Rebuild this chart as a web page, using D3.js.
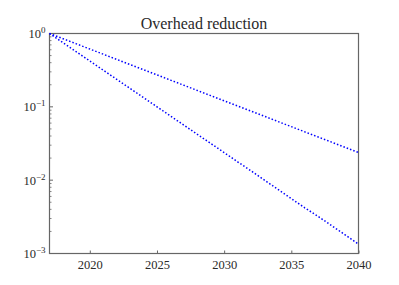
<!DOCTYPE html>
<html>
<head>
<meta charset="utf-8">
<script src="https://cdn.jsdelivr.net/npm/d3@7"></script>
<style>
	body { margin: 0; background: #fff; }
</style>
</head>
<body>
<div id="chart"></div>
<script>
// years on the x axis
var years = [2017, 2018, 2019, 2020, 2021, 2022, 2023, 2024, 2025, 2026, 2027, 2028,
	2029, 2030, 2031, 2032, 2033, 2034, 2035, 2036, 2037, 2038, 2039, 2040];

// upper (slower) curve
var slowValues = [1, 0.85, 0.7225, 0.6141, 0.5220, 0.4437, 0.3771, 0.3206, 0.2725,
	0.2316, 0.1969, 0.1673, 0.1422, 0.1209, 0.1028, 0.0874, 0.0743, 0.0631, 0.0537,
	0.0456, 0.0388, 0.0330, 0.0280, 0.0238];

// lower (faster) curve
var fastValues = [1, 0.75, 0.5625, 0.4219, 0.3164, 0.2373, 0.1780, 0.1335, 0.1001,
	0.0751, 0.0563, 0.0422, 0.0317, 0.0238, 0.0178, 0.0134, 0.0100, 0.0075, 0.0056,
	0.0042, 0.0032, 0.0024, 0.0018, 0.00134];

var xTicks = [2020, 2025, 2030, 2035, 2040];
var yExps = [0, -1, -2, -3];
var title = "Overhead reduction";

var width = 399, height = 285;
var margin = { top: 33.5, right: 40.5, bottom: 31.5, left: 49.5 };
var serif = "'Liberation Serif', serif";
var textColor = "#2a2a2a";

var svg = d3.select("#chart").append("svg")
	.attr("width", width)
	.attr("height", height)
	.style("font-family", serif);

var x = d3.scaleLinear()
	.domain([2017, 2040])
	.range([margin.left, width - margin.right]);

var y = d3.scaleLog()
	.domain([1e-3, 1])
	.range([height - margin.bottom, margin.top]);

var axisColor = "#666";

// frame
svg.append("rect")
	.attr("x", margin.left)
	.attr("y", margin.top)
	.attr("width", width - margin.left - margin.right)
	.attr("height", height - margin.top - margin.bottom)
	.attr("fill", "none")
	.attr("stroke", axisColor)
	.attr("stroke-width", 1.2);

// x axis, ticks pointing inwards
var xAxis = svg.append("g")
	.attr("transform", "translate(0," + (height - margin.bottom) + ")")
	.call(d3.axisBottom(x).tickValues(xTicks).tickSize(-3).tickPadding(6.5).tickFormat(d3.format("d")));
xAxis.attr("font-family", null).attr("font-size", 12.5);
xAxis.select(".domain").remove();
xAxis.selectAll(".tick line").attr("stroke", axisColor);
xAxis.selectAll(".tick text").attr("fill", textColor);

// y minor ticks
var minor = [];
yExps.slice(1).forEach(function(e) {
	for (var k = 2; k <= 9; k++) { minor.push(k * Math.pow(10, e)); }
});
svg.append("g").selectAll("line")
	.data(minor)
	.enter().append("line")
	.attr("x1", margin.left).attr("x2", margin.left + 2)
	.attr("y1", function(d) { return y(d); })
	.attr("y2", function(d) { return y(d); })
	.attr("stroke", axisColor)
	.attr("stroke-width", 0.8);

// y major ticks with 10^n labels
var yMajor = svg.append("g").selectAll("g")
	.data(yExps)
	.enter().append("g")
	.attr("transform", function(e) { return "translate(0," + y(Math.pow(10, e)) + ")"; });

yMajor.append("line")
	.attr("x1", margin.left).attr("x2", margin.left + 3.5)
	.attr("stroke", axisColor)
	.attr("stroke-width", 1);

var lbl = yMajor.append("text")
	.attr("x", margin.left - 4)
	.attr("y", 4.5)
	.attr("text-anchor", "end")
	.attr("font-size", 12.5)
	.attr("fill", textColor);
lbl.append("tspan").text("10");
lbl.append("tspan")
	.attr("dy", -5)
	.attr("font-size", 9)
	.text(function(e) { return e == 0 ? "0" : "\u2212" + (-e); });

// the two curves
var line = d3.line()
	.x(function(d) { return x(d[0]); })
	.y(function(d) { return y(d[1]); });

[slowValues, fastValues].forEach(function(vals) {
	svg.append("path")
		.datum(d3.zip(years, vals))
		.attr("d", line)
		.attr("fill", "none")
		.attr("stroke", "#0000ff")
		.attr("stroke-width", 1.5)
		.attr("stroke-dasharray", "1.5,2");
});

// title
svg.append("text")
	.attr("x", (margin.left + width - margin.right) / 2)
	.attr("y", 29)
	.attr("text-anchor", "middle")
	.attr("font-size", 16)
	.attr("fill", textColor)
	.text(title);
</script>
</body>
</html>
